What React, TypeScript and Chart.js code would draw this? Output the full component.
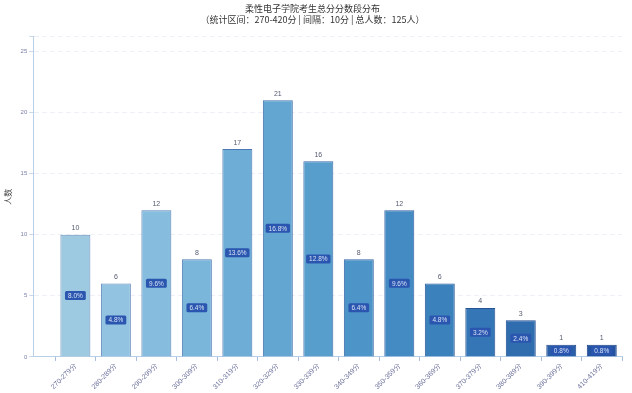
import React, { useEffect, useRef } from "react";
import { Chart, registerables } from "chart.js";
Chart.register(...registerables);

const categories = ["270-279分","280-289分","290-299分","300-309分","310-319分","320-329分","330-339分","340-349分","350-359分","360-369分","370-379分","380-389分","390-399分","410-419分"];
const counts = [10,6,12,8,17,21,16,8,12,6,4,3,1,1];
const total = 125;
const barColors = ["#9ecae1","#92c3e0","#86bcdd","#7ab5da","#6eaed6","#63a6d2","#589ecd","#4d95c8","#438bc2","#3b81bc","#3577b6","#2f6daf","#295fa8","#2454a1"];
const borderColors = ["#6a8fbf","#6289bc","#5a83b8","#527db5","#4a77b1","#4371ad","#3c6ba9","#3665a5","#305fa0","#2b599b","#275396","#234d91","#1f478b","#1b4185"];
const titleLines = ["柔性电子学院考生总分分数段分布","（统计区间：270-420分 | 间隔：10分 | 总人数：125人）"];
const yTitle = "人数";

const labelPlugin = {
  id: "barLabels",
  afterDatasetsDraw(chart: any) {
    const ctx = chart.ctx;
    const meta = chart.getDatasetMeta(0);
    ctx.save();
    meta.data.forEach((bar: any, i: number) => {
      const v = counts[i];
      ctx.font = "7px 'Liberation Sans', sans-serif";
      ctx.fillStyle = "#555a70";
      ctx.textAlign = "center";
      ctx.textBaseline = "bottom";
      ctx.fillText(String(v), bar.x, bar.y - 3);
      const pct = ((v / total) * 100).toFixed(1) + "%";
      ctx.font = "6.5px 'Liberation Sans', sans-serif";
      const w = ctx.measureText(pct).width + 6;
      const h = 9;
      const cy = (bar.y + bar.base) / 2;
      ctx.fillStyle = "#2a56b0";
      const x0 = bar.x - w / 2, y0 = cy - h / 2, r = 1.5;
      ctx.beginPath();
      ctx.moveTo(x0 + r, y0);
      ctx.lineTo(x0 + w - r, y0);
      ctx.quadraticCurveTo(x0 + w, y0, x0 + w, y0 + r);
      ctx.lineTo(x0 + w, y0 + h - r);
      ctx.quadraticCurveTo(x0 + w, y0 + h, x0 + w - r, y0 + h);
      ctx.lineTo(x0 + r, y0 + h);
      ctx.quadraticCurveTo(x0, y0 + h, x0, y0 + h - r);
      ctx.lineTo(x0, y0 + r);
      ctx.quadraticCurveTo(x0, y0, x0 + r, y0);
      ctx.fill();
      ctx.fillStyle = "#d8e2f5";
      ctx.textBaseline = "middle";
      ctx.fillText(pct, bar.x, cy + 0.5);
    });
    ctx.restore();
  },
};

export default function App() {
  const ref = useRef<HTMLCanvasElement>(null);
  useEffect(() => {
    document.body.style.margin = "0";
    const chart = new Chart(ref.current!, {
      type: "bar",
      data: {
        datasets: [{
          data: counts.map((c, i) => ({ x: i, y: c })),
          backgroundColor: barColors,
          borderColor: borderColors,
          borderWidth: 1,
          categoryPercentage: 0.74,
          barPercentage: 1,
        }],
      },
      options: {
        animation: false,
        responsive: false,
        layout: { padding: { left: 3, right: 10, top: 0, bottom: 1 } },
        plugins: {
          legend: { display: false },
          tooltip: { enabled: false },
          title: {
            display: true,
            text: titleLines,
            color: "#333333",
            font: { size: 9, family: "'Noto Sans CJK SC', sans-serif", weight: "normal" },
            padding: { top: 3, bottom: 12 },
          },
        },
        scales: {
          x: {
            type: "linear",
            min: -1.04,
            max: 13.5,
            offset: false,
            afterBuildTicks: (axis: any) => {
              axis.ticks = categories.map((_, i) => ({ value: i }));
            },
            grid: { display: true, drawOnChartArea: false, drawTicks: true, tickLength: 4, tickColor: "#a8bcd8" },
            border: { color: "#b8cfe8" },
            ticks: {
              color: "#6a6f9a",
              font: { size: 7, family: "'Liberation Sans', sans-serif" },
              maxRotation: 45,
              minRotation: 45,
              padding: 1,
              autoSkip: false,
              callback: (v: any) => categories[Math.round(v)] ?? "",
            },
          },
          y: {
            min: 0,
            max: 26.2,
            grid: { color: "#edf1f7", tickLength: 4, drawTicks: true, tickColor: "#c8d8ea" },
            border: { color: "#b8cfe8", dash: [5, 3] },
            ticks: {
              stepSize: 5,
              color: "#7a7fa8",
              font: { size: 6, family: "'Liberation Sans', sans-serif" },
              padding: 2,
              callback: (v: any) => (v % 5 === 0 ? String(v) : ""),
            },
            title: {
              display: true,
              text: yTitle,
              color: "#444",
              font: { size: 8, family: "'Noto Sans CJK SC', sans-serif" },
              padding: { top: 0, bottom: 6 },
            },
          },
        },
      },
      plugins: [labelPlugin],
    });
    return () => chart.destroy();
  }, []);
  return <canvas ref={ref} width={632} height={393} style={{ display: "block" }} />;
}
